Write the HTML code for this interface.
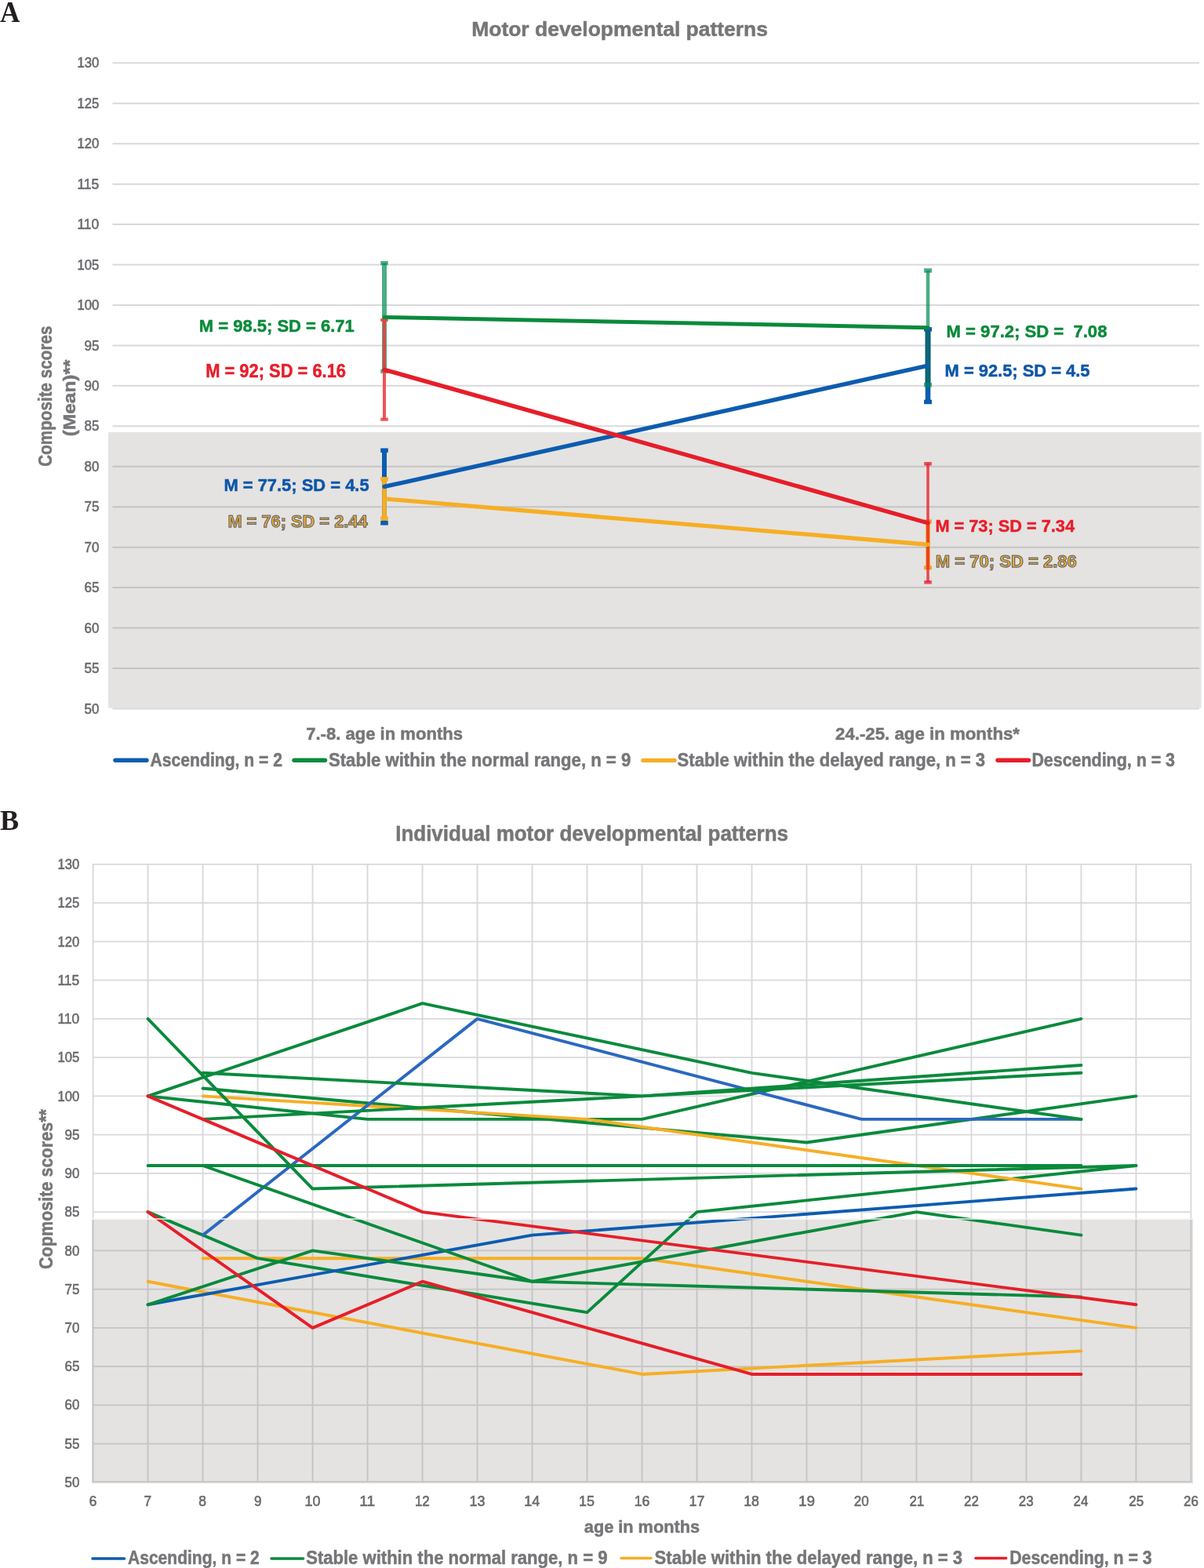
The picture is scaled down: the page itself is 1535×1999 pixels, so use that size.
<!DOCTYPE html>
<html lang="en">
<head>
<meta charset="utf-8">
<title>Motor developmental patterns</title>
<style>
html, body { margin: 0; padding: 0; background: #ffffff; }
body { width: 1535px; height: 1999px; overflow: hidden; }
svg { display: block; }
</style>
</head>
<body>
<svg width="1535" height="1999" viewBox="0 0 1535 1999">
<rect x="0" y="0" width="1535" height="1999" fill="#ffffff"/>
<line x1="143.5" y1="903.42" x2="1529" y2="903.42" stroke="#D9D9DB" stroke-width="2"/>
<line x1="143.5" y1="851.97" x2="1529" y2="851.97" stroke="#D9D9DB" stroke-width="2"/>
<line x1="143.5" y1="800.53" x2="1529" y2="800.53" stroke="#D9D9DB" stroke-width="2"/>
<line x1="143.5" y1="749.08" x2="1529" y2="749.08" stroke="#D9D9DB" stroke-width="2"/>
<line x1="143.5" y1="697.64" x2="1529" y2="697.64" stroke="#D9D9DB" stroke-width="2"/>
<line x1="143.5" y1="646.19" x2="1529" y2="646.19" stroke="#D9D9DB" stroke-width="2"/>
<line x1="143.5" y1="594.75" x2="1529" y2="594.75" stroke="#D9D9DB" stroke-width="2"/>
<line x1="143.5" y1="543.30" x2="1529" y2="543.30" stroke="#D9D9DB" stroke-width="2"/>
<line x1="143.5" y1="491.86" x2="1529" y2="491.86" stroke="#D9D9DB" stroke-width="2"/>
<line x1="143.5" y1="440.42" x2="1529" y2="440.42" stroke="#D9D9DB" stroke-width="2"/>
<line x1="143.5" y1="388.97" x2="1529" y2="388.97" stroke="#D9D9DB" stroke-width="2"/>
<line x1="143.5" y1="337.52" x2="1529" y2="337.52" stroke="#D9D9DB" stroke-width="2"/>
<line x1="143.5" y1="286.08" x2="1529" y2="286.08" stroke="#D9D9DB" stroke-width="2"/>
<line x1="143.5" y1="234.63" x2="1529" y2="234.63" stroke="#D9D9DB" stroke-width="2"/>
<line x1="143.5" y1="183.19" x2="1529" y2="183.19" stroke="#D9D9DB" stroke-width="2"/>
<line x1="143.5" y1="131.75" x2="1529" y2="131.75" stroke="#D9D9DB" stroke-width="2"/>
<line x1="143.5" y1="80.30" x2="1529" y2="80.30" stroke="#D9D9DB" stroke-width="2"/>
<rect x="138" y="551" width="1393.5" height="351.5" fill="rgb(118,113,105)" fill-opacity="0.2"/>
<g fill="rgb(0,139,80)" fill-opacity="0.7"><rect x="487.00" y="335.36" width="6.00" height="138.08"/><rect x="485.20" y="332.86" width="9.60" height="5.00"/><rect x="485.20" y="470.94" width="9.60" height="5.00"/></g>
<g fill="rgb(238,62,62)" fill-opacity="0.88"><rect x="488.00" y="407.90" width="4.00" height="126.76"/><rect x="485.20" y="405.90" width="9.60" height="4.00"/><rect x="485.20" y="532.66" width="9.60" height="4.00"/></g>
<g fill="#0C5CB0" fill-opacity="1.0"><rect x="487.00" y="574.17" width="6.00" height="92.60"/><rect x="485.20" y="571.42" width="9.60" height="5.50"/><rect x="485.20" y="664.02" width="9.60" height="5.50"/></g>
<g fill="#F6AE24" fill-opacity="1.0"><rect x="487.20" y="610.80" width="5.60" height="50.21"/><rect x="485.20" y="608.05" width="9.60" height="5.50"/><rect x="485.20" y="658.26" width="9.60" height="5.50"/></g>
<g fill="#0C5CB0" fill-opacity="1.0"><rect x="1179.70" y="419.84" width="6.60" height="92.60"/><rect x="1178.00" y="417.09" width="10.00" height="5.50"/><rect x="1178.00" y="509.69" width="10.00" height="5.50"/></g>
<rect x="1180.70" y="344.93" width="4.6" height="74.90" fill="rgb(0,139,80)" fill-opacity="0.7"/>
<rect x="1178.00" y="342.18" width="10" height="5.5" fill="rgb(0,139,80)" fill-opacity="0.7"/>
<rect x="1179.70" y="422.59" width="6.6" height="68.04" fill="#0B5A84"/>
<rect x="1181.40" y="422.59" width="3.2" height="68.04" fill="#0D6A6C"/>
<rect x="1178.00" y="487.88" width="10" height="5.5" fill="rgb(0,139,80)" fill-opacity="0.7"/>
<g fill="#F59A1C" fill-opacity="1.0"><rect x="1180.20" y="664.82" width="5.60" height="58.85"/><rect x="1178.20" y="662.32" width="9.60" height="5.00"/><rect x="1178.20" y="721.17" width="9.60" height="5.00"/></g>
<g fill="rgb(232,32,43)" fill-opacity="0.78"><rect x="1181.20" y="591.25" width="3.60" height="151.04"/><rect x="1178.20" y="589.00" width="9.60" height="4.50"/><rect x="1178.20" y="740.04" width="9.60" height="4.50"/></g>
<line x1="490.0" y1="635.91" x2="1183.0" y2="694.24" stroke="#F6AE24" stroke-width="5.3" stroke-linecap="round"/>
<line x1="490.0" y1="620.47" x2="1183.0" y2="466.14" stroke="#0C5CB0" stroke-width="5.4" stroke-linecap="round"/>
<line x1="490.0" y1="471.28" x2="1183.0" y2="666.77" stroke="#E61E2A" stroke-width="5.4" stroke-linecap="round"/>
<line x1="490.0" y1="404.40" x2="1183.0" y2="417.78" stroke="#0A8A3C" stroke-width="5.0" stroke-linecap="round"/>
<line x1="147" y1="969.3" x2="187" y2="969.3" stroke="#0C5CB0" stroke-width="5.4" stroke-linecap="round"/>
<line x1="375" y1="969.3" x2="414.5" y2="969.3" stroke="#0A8A3C" stroke-width="5.4" stroke-linecap="round"/>
<line x1="820" y1="969.4" x2="860" y2="969.4" stroke="#F6AE24" stroke-width="5.4" stroke-linecap="round"/>
<line x1="1272" y1="969.3" x2="1311.5" y2="969.3" stroke="#E61E2A" stroke-width="5.4" stroke-linecap="round"/>
<line x1="118.6" y1="1888.90" x2="1518.4" y2="1888.90" stroke="#D9D9DB" stroke-width="1.9"/>
<line x1="118.6" y1="1840.58" x2="1518.4" y2="1840.58" stroke="#D9D9DB" stroke-width="1.9"/>
<line x1="118.6" y1="1791.33" x2="1518.4" y2="1791.33" stroke="#D9D9DB" stroke-width="1.9"/>
<line x1="118.6" y1="1742.09" x2="1518.4" y2="1742.09" stroke="#D9D9DB" stroke-width="1.9"/>
<line x1="118.6" y1="1692.84" x2="1518.4" y2="1692.84" stroke="#D9D9DB" stroke-width="1.9"/>
<line x1="118.6" y1="1643.60" x2="1518.4" y2="1643.60" stroke="#D9D9DB" stroke-width="1.9"/>
<line x1="118.6" y1="1594.35" x2="1518.4" y2="1594.35" stroke="#D9D9DB" stroke-width="1.9"/>
<line x1="118.6" y1="1545.11" x2="1518.4" y2="1545.11" stroke="#D9D9DB" stroke-width="1.9"/>
<line x1="118.6" y1="1495.86" x2="1518.4" y2="1495.86" stroke="#D9D9DB" stroke-width="1.9"/>
<line x1="118.6" y1="1446.62" x2="1518.4" y2="1446.62" stroke="#D9D9DB" stroke-width="1.9"/>
<line x1="118.6" y1="1397.37" x2="1518.4" y2="1397.37" stroke="#D9D9DB" stroke-width="1.9"/>
<line x1="118.6" y1="1348.12" x2="1518.4" y2="1348.12" stroke="#D9D9DB" stroke-width="1.9"/>
<line x1="118.6" y1="1298.88" x2="1518.4" y2="1298.88" stroke="#D9D9DB" stroke-width="1.9"/>
<line x1="118.6" y1="1249.64" x2="1518.4" y2="1249.64" stroke="#D9D9DB" stroke-width="1.9"/>
<line x1="118.6" y1="1200.39" x2="1518.4" y2="1200.39" stroke="#D9D9DB" stroke-width="1.9"/>
<line x1="118.6" y1="1151.14" x2="1518.4" y2="1151.14" stroke="#D9D9DB" stroke-width="1.9"/>
<line x1="118.6" y1="1101.90" x2="1518.4" y2="1101.90" stroke="#D9D9DB" stroke-width="1.9"/>
<line x1="118.60" y1="1100.95" x2="118.60" y2="1889.85" stroke="#D9D9DB" stroke-width="1.9"/>
<line x1="188.59" y1="1100.95" x2="188.59" y2="1889.85" stroke="#D9D9DB" stroke-width="1.9"/>
<line x1="258.58" y1="1100.95" x2="258.58" y2="1889.85" stroke="#D9D9DB" stroke-width="1.9"/>
<line x1="328.57" y1="1100.95" x2="328.57" y2="1889.85" stroke="#D9D9DB" stroke-width="1.9"/>
<line x1="398.56" y1="1100.95" x2="398.56" y2="1889.85" stroke="#D9D9DB" stroke-width="1.9"/>
<line x1="468.55" y1="1100.95" x2="468.55" y2="1889.85" stroke="#D9D9DB" stroke-width="1.9"/>
<line x1="538.54" y1="1100.95" x2="538.54" y2="1889.85" stroke="#D9D9DB" stroke-width="1.9"/>
<line x1="608.53" y1="1100.95" x2="608.53" y2="1889.85" stroke="#D9D9DB" stroke-width="1.9"/>
<line x1="678.52" y1="1100.95" x2="678.52" y2="1889.85" stroke="#D9D9DB" stroke-width="1.9"/>
<line x1="748.51" y1="1100.95" x2="748.51" y2="1889.85" stroke="#D9D9DB" stroke-width="1.9"/>
<line x1="818.50" y1="1100.95" x2="818.50" y2="1889.85" stroke="#D9D9DB" stroke-width="1.9"/>
<line x1="888.49" y1="1100.95" x2="888.49" y2="1889.85" stroke="#D9D9DB" stroke-width="1.9"/>
<line x1="958.48" y1="1100.95" x2="958.48" y2="1889.85" stroke="#D9D9DB" stroke-width="1.9"/>
<line x1="1028.47" y1="1100.95" x2="1028.47" y2="1889.85" stroke="#D9D9DB" stroke-width="1.9"/>
<line x1="1098.46" y1="1100.95" x2="1098.46" y2="1889.85" stroke="#D9D9DB" stroke-width="1.9"/>
<line x1="1168.45" y1="1100.95" x2="1168.45" y2="1889.85" stroke="#D9D9DB" stroke-width="1.9"/>
<line x1="1238.44" y1="1100.95" x2="1238.44" y2="1889.85" stroke="#D9D9DB" stroke-width="1.9"/>
<line x1="1308.43" y1="1100.95" x2="1308.43" y2="1889.85" stroke="#D9D9DB" stroke-width="1.9"/>
<line x1="1378.42" y1="1100.95" x2="1378.42" y2="1889.85" stroke="#D9D9DB" stroke-width="1.9"/>
<line x1="1448.41" y1="1100.95" x2="1448.41" y2="1889.85" stroke="#D9D9DB" stroke-width="1.9"/>
<line x1="1518.40" y1="1100.95" x2="1518.40" y2="1889.85" stroke="#D9D9DB" stroke-width="1.9"/>
<rect x="117" y="1553" width="1404" height="338.2" fill="rgb(118,113,105)" fill-opacity="0.2"/>
<polyline points="258.58,1604.20 818.50,1604.20 1448.41,1692.84" fill="none" stroke="#F6AE24" stroke-width="3.9" stroke-linejoin="round" stroke-linecap="round"/>
<polyline points="188.59,1633.75 818.50,1751.93 1378.42,1722.39" fill="none" stroke="#F6AE24" stroke-width="3.9" stroke-linejoin="round" stroke-linecap="round"/>
<polyline points="258.58,1387.52 1028.47,1456.46 1448.41,1397.37" fill="none" stroke="#0A8A3C" stroke-width="3.9" stroke-linejoin="round" stroke-linecap="round"/>
<polyline points="188.59,1397.37 468.55,1426.92 818.50,1426.92 1378.42,1298.88" fill="none" stroke="#0A8A3C" stroke-width="3.9" stroke-linejoin="round" stroke-linecap="round"/>
<polyline points="188.59,1545.11 328.57,1604.20 748.51,1673.14 888.49,1545.11 1448.41,1486.01" fill="none" stroke="#0A8A3C" stroke-width="3.9" stroke-linejoin="round" stroke-linecap="round"/>
<polyline points="258.58,1397.37 748.51,1426.92 1378.42,1515.56" fill="none" stroke="#F6AE24" stroke-width="3.9" stroke-linejoin="round" stroke-linecap="round"/>
<polyline points="258.58,1574.65 608.53,1298.88 1098.46,1426.92 1378.42,1426.92" fill="none" stroke="#2B68BF" stroke-width="3.9" stroke-linejoin="round" stroke-linecap="round"/>
<polyline points="188.59,1663.29 678.52,1574.65 1448.41,1515.56" fill="none" stroke="#0C5CB0" stroke-width="3.9" stroke-linejoin="round" stroke-linecap="round"/>
<polyline points="188.59,1298.88 398.56,1515.56 1448.41,1486.01" fill="none" stroke="#0A8A3C" stroke-width="3.9" stroke-linejoin="round" stroke-linecap="round"/>
<polyline points="188.59,1397.37 538.54,1279.18 958.48,1367.82 1378.42,1426.92" fill="none" stroke="#0A8A3C" stroke-width="3.9" stroke-linejoin="round" stroke-linecap="round"/>
<polyline points="258.58,1367.82 818.50,1397.37 1378.42,1357.97" fill="none" stroke="#0A8A3C" stroke-width="3.9" stroke-linejoin="round" stroke-linecap="round"/>
<polyline points="258.58,1426.92 1378.42,1367.82" fill="none" stroke="#0A8A3C" stroke-width="3.9" stroke-linejoin="round" stroke-linecap="round"/>
<polyline points="188.59,1486.01 1378.42,1486.01" fill="none" stroke="#0A8A3C" stroke-width="3.9" stroke-linejoin="round" stroke-linecap="round"/>
<polyline points="258.58,1486.01 678.52,1633.75 1168.45,1545.11 1378.42,1574.65" fill="none" stroke="#0A8A3C" stroke-width="3.9" stroke-linejoin="round" stroke-linecap="round"/>
<polyline points="188.59,1663.29 398.56,1594.35 678.52,1633.75 1378.42,1653.44" fill="none" stroke="#0A8A3C" stroke-width="3.9" stroke-linejoin="round" stroke-linecap="round"/>
<polyline points="188.59,1397.37 258.58,1426.92 538.54,1545.11 1448.41,1663.29" fill="none" stroke="#E61E2A" stroke-width="3.9" stroke-linejoin="round" stroke-linecap="round"/>
<polyline points="188.59,1545.11 398.56,1692.84 538.54,1633.75 958.48,1751.93 1378.42,1751.93" fill="none" stroke="#E61E2A" stroke-width="3.9" stroke-linejoin="round" stroke-linecap="round"/>
<rect x="117" y="1553.2" width="1404" height="1.6" fill="#ffffff" fill-opacity="0.85"/>
<line x1="118" y1="1987" x2="158.5" y2="1987" stroke="#0C5CB0" stroke-width="3.6" stroke-linecap="round"/>
<line x1="346" y1="1987" x2="386.5" y2="1987" stroke="#0A8A3C" stroke-width="3.6" stroke-linecap="round"/>
<line x1="792" y1="1986.5" x2="830" y2="1986.5" stroke="#F6AE24" stroke-width="3.6" stroke-linecap="round"/>
<line x1="1244" y1="1986.5" x2="1282.5" y2="1986.5" stroke="#E61E2A" stroke-width="3.6" stroke-linecap="round"/>
<text x="0.00" y="27.80" font-family="'Liberation Serif', 'Times New Roman', serif" font-size="37.21" font-weight="bold" fill="#231F20" textLength="25.48" lengthAdjust="spacingAndGlyphs" >A</text>
<text x="0.00" y="1057.80" font-family="'Liberation Serif', 'Times New Roman', serif" font-size="36.05" font-weight="bold" fill="#231F20" textLength="24.15" lengthAdjust="spacingAndGlyphs" >B</text>
<text x="601.20" y="45.60" font-family="'Liberation Sans', Arial, sans-serif" font-size="26.60" font-weight="bold" fill="#767679" textLength="377.82" lengthAdjust="spacingAndGlyphs" stroke="#767679" stroke-width="0.5">Motor developmental patterns</text>
<text x="504.20" y="1072.10" font-family="'Liberation Sans', Arial, sans-serif" font-size="27.03" font-weight="bold" fill="#767679" textLength="500.83" lengthAdjust="spacingAndGlyphs" stroke="#767679" stroke-width="0.5">Individual motor developmental patterns</text>
<text x="107.60" y="909.57" font-family="'Liberation Sans', Arial, sans-serif" font-size="17.88" font-weight="normal" fill="#6B6B6F" textLength="18.79" lengthAdjust="spacingAndGlyphs" stroke="#6B6B6F" stroke-width="0.6">50</text>
<text x="107.60" y="858.12" font-family="'Liberation Sans', Arial, sans-serif" font-size="17.88" font-weight="normal" fill="#6B6B6F" textLength="18.95" lengthAdjust="spacingAndGlyphs" stroke="#6B6B6F" stroke-width="0.6">55</text>
<text x="107.60" y="806.68" font-family="'Liberation Sans', Arial, sans-serif" font-size="17.88" font-weight="normal" fill="#6B6B6F" textLength="18.79" lengthAdjust="spacingAndGlyphs" stroke="#6B6B6F" stroke-width="0.6">60</text>
<text x="107.60" y="755.23" font-family="'Liberation Sans', Arial, sans-serif" font-size="17.88" font-weight="normal" fill="#6B6B6F" textLength="18.95" lengthAdjust="spacingAndGlyphs" stroke="#6B6B6F" stroke-width="0.6">65</text>
<text x="107.60" y="703.79" font-family="'Liberation Sans', Arial, sans-serif" font-size="17.88" font-weight="normal" fill="#6B6B6F" textLength="18.79" lengthAdjust="spacingAndGlyphs" stroke="#6B6B6F" stroke-width="0.6">70</text>
<text x="107.60" y="652.34" font-family="'Liberation Sans', Arial, sans-serif" font-size="17.88" font-weight="normal" fill="#6B6B6F" textLength="18.95" lengthAdjust="spacingAndGlyphs" stroke="#6B6B6F" stroke-width="0.6">75</text>
<text x="107.60" y="600.90" font-family="'Liberation Sans', Arial, sans-serif" font-size="17.88" font-weight="normal" fill="#6B6B6F" textLength="18.72" lengthAdjust="spacingAndGlyphs" stroke="#6B6B6F" stroke-width="0.6">80</text>
<text x="107.60" y="549.45" font-family="'Liberation Sans', Arial, sans-serif" font-size="17.88" font-weight="normal" fill="#6B6B6F" textLength="18.77" lengthAdjust="spacingAndGlyphs" stroke="#6B6B6F" stroke-width="0.6">85</text>
<text x="107.60" y="498.01" font-family="'Liberation Sans', Arial, sans-serif" font-size="17.88" font-weight="normal" fill="#6B6B6F" textLength="18.79" lengthAdjust="spacingAndGlyphs" stroke="#6B6B6F" stroke-width="0.6">90</text>
<text x="107.60" y="446.56" font-family="'Liberation Sans', Arial, sans-serif" font-size="17.88" font-weight="normal" fill="#6B6B6F" textLength="18.95" lengthAdjust="spacingAndGlyphs" stroke="#6B6B6F" stroke-width="0.6">95</text>
<text x="98.40" y="395.12" font-family="'Liberation Sans', Arial, sans-serif" font-size="17.88" font-weight="normal" fill="#6B6B6F" textLength="27.83" lengthAdjust="spacingAndGlyphs" stroke="#6B6B6F" stroke-width="0.6">100</text>
<text x="98.40" y="343.67" font-family="'Liberation Sans', Arial, sans-serif" font-size="17.88" font-weight="normal" fill="#6B6B6F" textLength="27.83" lengthAdjust="spacingAndGlyphs" stroke="#6B6B6F" stroke-width="0.6">105</text>
<text x="98.40" y="292.23" font-family="'Liberation Sans', Arial, sans-serif" font-size="17.88" font-weight="normal" fill="#6B6B6F" textLength="27.91" lengthAdjust="spacingAndGlyphs" stroke="#6B6B6F" stroke-width="0.6">110</text>
<text x="98.40" y="240.78" font-family="'Liberation Sans', Arial, sans-serif" font-size="17.88" font-weight="normal" fill="#6B6B6F" textLength="27.94" lengthAdjust="spacingAndGlyphs" stroke="#6B6B6F" stroke-width="0.6">115</text>
<text x="98.40" y="189.34" font-family="'Liberation Sans', Arial, sans-serif" font-size="17.88" font-weight="normal" fill="#6B6B6F" textLength="27.83" lengthAdjust="spacingAndGlyphs" stroke="#6B6B6F" stroke-width="0.6">120</text>
<text x="98.40" y="137.90" font-family="'Liberation Sans', Arial, sans-serif" font-size="17.88" font-weight="normal" fill="#6B6B6F" textLength="27.83" lengthAdjust="spacingAndGlyphs" stroke="#6B6B6F" stroke-width="0.6">125</text>
<text x="98.40" y="86.45" font-family="'Liberation Sans', Arial, sans-serif" font-size="17.88" font-weight="normal" fill="#6B6B6F" textLength="27.83" lengthAdjust="spacingAndGlyphs" stroke="#6B6B6F" stroke-width="0.6">130</text>
<text x="82.60" y="1895.97" font-family="'Liberation Sans', Arial, sans-serif" font-size="17.88" font-weight="normal" fill="#6B6B6F" textLength="18.79" lengthAdjust="spacingAndGlyphs" stroke="#6B6B6F" stroke-width="0.6">50</text>
<text x="82.60" y="1846.73" font-family="'Liberation Sans', Arial, sans-serif" font-size="17.88" font-weight="normal" fill="#6B6B6F" textLength="18.95" lengthAdjust="spacingAndGlyphs" stroke="#6B6B6F" stroke-width="0.6">55</text>
<text x="82.60" y="1797.48" font-family="'Liberation Sans', Arial, sans-serif" font-size="17.88" font-weight="normal" fill="#6B6B6F" textLength="18.79" lengthAdjust="spacingAndGlyphs" stroke="#6B6B6F" stroke-width="0.6">60</text>
<text x="82.60" y="1748.24" font-family="'Liberation Sans', Arial, sans-serif" font-size="17.88" font-weight="normal" fill="#6B6B6F" textLength="18.95" lengthAdjust="spacingAndGlyphs" stroke="#6B6B6F" stroke-width="0.6">65</text>
<text x="82.60" y="1698.99" font-family="'Liberation Sans', Arial, sans-serif" font-size="17.88" font-weight="normal" fill="#6B6B6F" textLength="18.79" lengthAdjust="spacingAndGlyphs" stroke="#6B6B6F" stroke-width="0.6">70</text>
<text x="82.60" y="1649.75" font-family="'Liberation Sans', Arial, sans-serif" font-size="17.88" font-weight="normal" fill="#6B6B6F" textLength="18.95" lengthAdjust="spacingAndGlyphs" stroke="#6B6B6F" stroke-width="0.6">75</text>
<text x="82.60" y="1600.50" font-family="'Liberation Sans', Arial, sans-serif" font-size="17.88" font-weight="normal" fill="#6B6B6F" textLength="18.72" lengthAdjust="spacingAndGlyphs" stroke="#6B6B6F" stroke-width="0.6">80</text>
<text x="82.60" y="1551.26" font-family="'Liberation Sans', Arial, sans-serif" font-size="17.88" font-weight="normal" fill="#6B6B6F" textLength="18.77" lengthAdjust="spacingAndGlyphs" stroke="#6B6B6F" stroke-width="0.6">85</text>
<text x="82.60" y="1502.01" font-family="'Liberation Sans', Arial, sans-serif" font-size="17.88" font-weight="normal" fill="#6B6B6F" textLength="18.79" lengthAdjust="spacingAndGlyphs" stroke="#6B6B6F" stroke-width="0.6">90</text>
<text x="82.60" y="1452.77" font-family="'Liberation Sans', Arial, sans-serif" font-size="17.88" font-weight="normal" fill="#6B6B6F" textLength="18.95" lengthAdjust="spacingAndGlyphs" stroke="#6B6B6F" stroke-width="0.6">95</text>
<text x="73.40" y="1403.52" font-family="'Liberation Sans', Arial, sans-serif" font-size="17.88" font-weight="normal" fill="#6B6B6F" textLength="27.83" lengthAdjust="spacingAndGlyphs" stroke="#6B6B6F" stroke-width="0.6">100</text>
<text x="73.40" y="1354.28" font-family="'Liberation Sans', Arial, sans-serif" font-size="17.88" font-weight="normal" fill="#6B6B6F" textLength="27.83" lengthAdjust="spacingAndGlyphs" stroke="#6B6B6F" stroke-width="0.6">105</text>
<text x="73.40" y="1305.03" font-family="'Liberation Sans', Arial, sans-serif" font-size="17.88" font-weight="normal" fill="#6B6B6F" textLength="27.91" lengthAdjust="spacingAndGlyphs" stroke="#6B6B6F" stroke-width="0.6">110</text>
<text x="73.40" y="1255.79" font-family="'Liberation Sans', Arial, sans-serif" font-size="17.88" font-weight="normal" fill="#6B6B6F" textLength="27.94" lengthAdjust="spacingAndGlyphs" stroke="#6B6B6F" stroke-width="0.6">115</text>
<text x="73.40" y="1206.54" font-family="'Liberation Sans', Arial, sans-serif" font-size="17.88" font-weight="normal" fill="#6B6B6F" textLength="27.83" lengthAdjust="spacingAndGlyphs" stroke="#6B6B6F" stroke-width="0.6">120</text>
<text x="73.40" y="1157.30" font-family="'Liberation Sans', Arial, sans-serif" font-size="17.88" font-weight="normal" fill="#6B6B6F" textLength="27.83" lengthAdjust="spacingAndGlyphs" stroke="#6B6B6F" stroke-width="0.6">125</text>
<text x="73.40" y="1108.05" font-family="'Liberation Sans', Arial, sans-serif" font-size="17.88" font-weight="normal" fill="#6B6B6F" textLength="27.83" lengthAdjust="spacingAndGlyphs" stroke="#6B6B6F" stroke-width="0.6">130</text>
<text x="113.80" y="1920.00" font-family="'Liberation Sans', Arial, sans-serif" font-size="17.88" font-weight="normal" fill="#6B6B6F" textLength="9.61" lengthAdjust="spacingAndGlyphs" stroke="#6B6B6F" stroke-width="0.6">6</text>
<text x="183.52" y="1920.00" font-family="'Liberation Sans', Arial, sans-serif" font-size="17.88" font-weight="normal" fill="#6B6B6F" textLength="9.61" lengthAdjust="spacingAndGlyphs" stroke="#6B6B6F" stroke-width="0.6">7</text>
<text x="253.24" y="1920.00" font-family="'Liberation Sans', Arial, sans-serif" font-size="17.88" font-weight="normal" fill="#6B6B6F" textLength="9.71" lengthAdjust="spacingAndGlyphs" stroke="#6B6B6F" stroke-width="0.6">8</text>
<text x="323.96" y="1920.00" font-family="'Liberation Sans', Arial, sans-serif" font-size="17.88" font-weight="normal" fill="#6B6B6F" textLength="9.49" lengthAdjust="spacingAndGlyphs" stroke="#6B6B6F" stroke-width="0.6">9</text>
<text x="388.48" y="1920.00" font-family="'Liberation Sans', Arial, sans-serif" font-size="17.88" font-weight="normal" fill="#6B6B6F" textLength="19.96" lengthAdjust="spacingAndGlyphs" stroke="#6B6B6F" stroke-width="0.6">10</text>
<text x="458.20" y="1920.00" font-family="'Liberation Sans', Arial, sans-serif" font-size="17.88" font-weight="normal" fill="#6B6B6F" textLength="19.90" lengthAdjust="spacingAndGlyphs" stroke="#6B6B6F" stroke-width="0.6">11</text>
<text x="528.92" y="1920.00" font-family="'Liberation Sans', Arial, sans-serif" font-size="17.88" font-weight="normal" fill="#6B6B6F" textLength="18.91" lengthAdjust="spacingAndGlyphs" stroke="#6B6B6F" stroke-width="0.6">12</text>
<text x="598.64" y="1920.00" font-family="'Liberation Sans', Arial, sans-serif" font-size="17.88" font-weight="normal" fill="#6B6B6F" textLength="19.96" lengthAdjust="spacingAndGlyphs" stroke="#6B6B6F" stroke-width="0.6">13</text>
<text x="668.36" y="1920.00" font-family="'Liberation Sans', Arial, sans-serif" font-size="17.88" font-weight="normal" fill="#6B6B6F" textLength="19.95" lengthAdjust="spacingAndGlyphs" stroke="#6B6B6F" stroke-width="0.6">14</text>
<text x="738.08" y="1920.00" font-family="'Liberation Sans', Arial, sans-serif" font-size="17.88" font-weight="normal" fill="#6B6B6F" textLength="19.89" lengthAdjust="spacingAndGlyphs" stroke="#6B6B6F" stroke-width="0.6">15</text>
<text x="808.80" y="1920.00" font-family="'Liberation Sans', Arial, sans-serif" font-size="17.88" font-weight="normal" fill="#6B6B6F" textLength="19.64" lengthAdjust="spacingAndGlyphs" stroke="#6B6B6F" stroke-width="0.6">16</text>
<text x="878.52" y="1920.00" font-family="'Liberation Sans', Arial, sans-serif" font-size="17.88" font-weight="normal" fill="#6B6B6F" textLength="19.77" lengthAdjust="spacingAndGlyphs" stroke="#6B6B6F" stroke-width="0.6">17</text>
<text x="948.24" y="1920.00" font-family="'Liberation Sans', Arial, sans-serif" font-size="17.88" font-weight="normal" fill="#6B6B6F" textLength="19.71" lengthAdjust="spacingAndGlyphs" stroke="#6B6B6F" stroke-width="0.6">18</text>
<text x="1017.96" y="1920.00" font-family="'Liberation Sans', Arial, sans-serif" font-size="17.88" font-weight="normal" fill="#6B6B6F" textLength="20.86" lengthAdjust="spacingAndGlyphs" stroke="#6B6B6F" stroke-width="0.6">19</text>
<text x="1088.68" y="1920.00" font-family="'Liberation Sans', Arial, sans-serif" font-size="17.88" font-weight="normal" fill="#6B6B6F" textLength="18.96" lengthAdjust="spacingAndGlyphs" stroke="#6B6B6F" stroke-width="0.6">20</text>
<text x="1159.40" y="1920.00" font-family="'Liberation Sans', Arial, sans-serif" font-size="17.88" font-weight="normal" fill="#6B6B6F" textLength="18.84" lengthAdjust="spacingAndGlyphs" stroke="#6B6B6F" stroke-width="0.6">21</text>
<text x="1229.12" y="1920.00" font-family="'Liberation Sans', Arial, sans-serif" font-size="17.88" font-weight="normal" fill="#6B6B6F" textLength="18.78" lengthAdjust="spacingAndGlyphs" stroke="#6B6B6F" stroke-width="0.6">22</text>
<text x="1298.84" y="1920.00" font-family="'Liberation Sans', Arial, sans-serif" font-size="17.88" font-weight="normal" fill="#6B6B6F" textLength="18.78" lengthAdjust="spacingAndGlyphs" stroke="#6B6B6F" stroke-width="0.6">23</text>
<text x="1368.56" y="1920.00" font-family="'Liberation Sans', Arial, sans-serif" font-size="17.88" font-weight="normal" fill="#6B6B6F" textLength="18.78" lengthAdjust="spacingAndGlyphs" stroke="#6B6B6F" stroke-width="0.6">24</text>
<text x="1439.28" y="1920.00" font-family="'Liberation Sans', Arial, sans-serif" font-size="17.88" font-weight="normal" fill="#6B6B6F" textLength="18.78" lengthAdjust="spacingAndGlyphs" stroke="#6B6B6F" stroke-width="0.6">25</text>
<text x="1509.00" y="1920.00" font-family="'Liberation Sans', Arial, sans-serif" font-size="17.88" font-weight="normal" fill="#6B6B6F" textLength="18.78" lengthAdjust="spacingAndGlyphs" stroke="#6B6B6F" stroke-width="0.6">26</text>
<text transform="translate(65.80,594.80) rotate(-90)" x="0" y="0" font-family="'Liberation Sans', Arial, sans-serif" font-size="23.55" font-weight="bold" fill="#767679" textLength="179.23" lengthAdjust="spacingAndGlyphs" stroke="#767679" stroke-width="0.5">Composite scores</text>
<text transform="translate(95.70,556.20) rotate(-90)" x="0" y="0" font-family="'Liberation Sans', Arial, sans-serif" font-size="22.09" font-weight="bold" fill="#767679" textLength="97.68" lengthAdjust="spacingAndGlyphs" stroke="#767679" stroke-width="0.5">(Mean)**</text>
<text transform="translate(67.30,1618.00) rotate(-90)" x="0" y="0" font-family="'Liberation Sans', Arial, sans-serif" font-size="23.55" font-weight="bold" fill="#767679" textLength="204.00" lengthAdjust="spacingAndGlyphs" stroke="#767679" stroke-width="0.5">Copmosite scores**</text>
<text x="390.20" y="942.50" font-family="'Liberation Sans', Arial, sans-serif" font-size="22.24" font-weight="bold" fill="#767679" textLength="199.83" lengthAdjust="spacingAndGlyphs" stroke="#767679" stroke-width="0.5">7.-8. age in months</text>
<text x="1065.00" y="942.50" font-family="'Liberation Sans', Arial, sans-serif" font-size="22.24" font-weight="bold" fill="#767679" textLength="235.02" lengthAdjust="spacingAndGlyphs" stroke="#767679" stroke-width="0.5">24.-25. age in months*</text>
<text x="744.80" y="1954.30" font-family="'Liberation Sans', Arial, sans-serif" font-size="22.24" font-weight="bold" fill="#767679" textLength="147.25" lengthAdjust="spacingAndGlyphs" stroke="#767679" stroke-width="0.5">age in months</text>
<text x="191.60" y="977.00" font-family="'Liberation Sans', Arial, sans-serif" font-size="23.55" font-weight="bold" fill="#767679" textLength="168.43" lengthAdjust="spacingAndGlyphs" stroke="#767679" stroke-width="0.5">Ascending, n = 2</text>
<text x="419.00" y="977.00" font-family="'Liberation Sans', Arial, sans-serif" font-size="23.55" font-weight="bold" fill="#767679" textLength="385.22" lengthAdjust="spacingAndGlyphs" stroke="#767679" stroke-width="0.5">Stable within the normal range, n = 9</text>
<text x="863.60" y="977.00" font-family="'Liberation Sans', Arial, sans-serif" font-size="23.55" font-weight="bold" fill="#767679" textLength="392.42" lengthAdjust="spacingAndGlyphs" stroke="#767679" stroke-width="0.5">Stable within the delayed range, n = 3</text>
<text x="1315.40" y="977.00" font-family="'Liberation Sans', Arial, sans-serif" font-size="23.55" font-weight="bold" fill="#767679" textLength="182.64" lengthAdjust="spacingAndGlyphs" stroke="#767679" stroke-width="0.5">Descending, n = 3</text>
<text x="163.00" y="1994.20" font-family="'Liberation Sans', Arial, sans-serif" font-size="23.55" font-weight="bold" fill="#767679" textLength="167.84" lengthAdjust="spacingAndGlyphs" stroke="#767679" stroke-width="0.5">Ascending, n = 2</text>
<text x="390.20" y="1994.20" font-family="'Liberation Sans', Arial, sans-serif" font-size="23.55" font-weight="bold" fill="#767679" textLength="384.22" lengthAdjust="spacingAndGlyphs" stroke="#767679" stroke-width="0.5">Stable within the normal range, n = 9</text>
<text x="834.60" y="1994.20" font-family="'Liberation Sans', Arial, sans-serif" font-size="23.55" font-weight="bold" fill="#767679" textLength="392.41" lengthAdjust="spacingAndGlyphs" stroke="#767679" stroke-width="0.5">Stable within the delayed range, n = 3</text>
<text x="1287.20" y="1994.20" font-family="'Liberation Sans', Arial, sans-serif" font-size="23.55" font-weight="bold" fill="#767679" textLength="181.47" lengthAdjust="spacingAndGlyphs" stroke="#767679" stroke-width="0.5">Descending, n = 3</text>
<text x="253.80" y="423.20" font-family="'Liberation Sans', Arial, sans-serif" font-size="22.82" font-weight="bold" fill="#0B8A3B" textLength="198.05" lengthAdjust="spacingAndGlyphs" stroke="#0B8A3B" stroke-width="0.5">M = 98.5; SD = 6.71</text>
<text x="262.20" y="480.80" font-family="'Liberation Sans', Arial, sans-serif" font-size="23.26" font-weight="bold" fill="#E81E2A" textLength="178.82" lengthAdjust="spacingAndGlyphs" stroke="#E81E2A" stroke-width="0.5">M = 92; SD = 6.16</text>
<text x="285.40" y="626.20" font-family="'Liberation Sans', Arial, sans-serif" font-size="22.82" font-weight="bold" fill="#0D56A8" textLength="185.23" lengthAdjust="spacingAndGlyphs" stroke="#0D56A8" stroke-width="0.5">M = 77.5; SD = 4.5</text>
<text x="290.40" y="671.70" font-family="'Liberation Sans', Arial, sans-serif" font-size="22.97" font-weight="bold" fill="#F6B02A" textLength="178.22" lengthAdjust="spacingAndGlyphs" stroke="#6A6A6C" stroke-width="1.25">M = 76; SD = 2.44</text>
<text x="1206.60" y="429.50" font-family="'Liberation Sans', Arial, sans-serif" font-size="22.24" font-weight="bold" fill="#0B8A3B" textLength="204.83" lengthAdjust="spacingAndGlyphs" xml:space="preserve" stroke="#0B8A3B" stroke-width="0.5">M = 97.2; SD =  7.08</text>
<text x="1204.60" y="479.70" font-family="'Liberation Sans', Arial, sans-serif" font-size="22.53" font-weight="bold" fill="#0D56A8" textLength="184.83" lengthAdjust="spacingAndGlyphs" stroke="#0D56A8" stroke-width="0.5">M = 92.5; SD = 4.5</text>
<text x="1192.40" y="678.00" font-family="'Liberation Sans', Arial, sans-serif" font-size="22.67" font-weight="bold" fill="#E81E2A" textLength="177.62" lengthAdjust="spacingAndGlyphs" stroke="#E81E2A" stroke-width="0.5">M = 73; SD = 7.34</text>
<text x="1192.80" y="723.00" font-family="'Liberation Sans', Arial, sans-serif" font-size="22.82" font-weight="bold" fill="#F6B02A" textLength="180.04" lengthAdjust="spacingAndGlyphs" stroke="#6A6A6C" stroke-width="1.25">M = 70; SD = 2.86</text>
</svg>
</body>
</html>
